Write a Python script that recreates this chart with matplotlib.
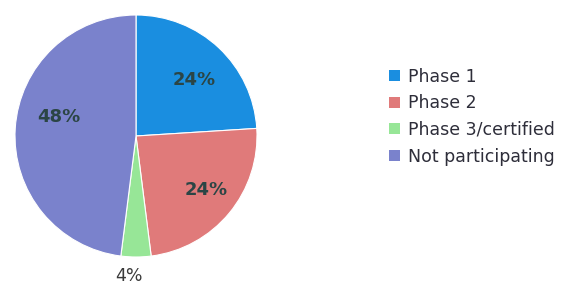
import matplotlib
matplotlib.use("Agg")
import matplotlib.pyplot as plt
import numpy as np
from matplotlib.patches import Patch

categories = ["Phase 1", "Phase 2", "Phase 3/certified", "Not participating"]
counts = [6, 6, 1, 12]
pct_labels = ["24%", "24%", "4%", "48%"]
colors = ["#1a8ee0", "#e07a7a", "#97e697", "#7a82cc"]

W, H = 588, 289
fig = plt.figure(figsize=(W / 100, H / 100), dpi=100)
cx, cy, r = 136, 136, 121
ax = fig.add_axes([(cx - r) / W, (H - cy - r) / H, 2 * r / W, 2 * r / H])

wedges, _ = ax.pie(counts, colors=colors, startangle=90, counterclock=False,
                   radius=1, wedgeprops=dict(linewidth=0.8, edgecolor="white"))
ax.set_xlim(-1, 1)
ax.set_ylim(-1, 1)
ax.set_aspect("equal")
ax.axis("off")

dists = [0.67, 0.73, 1.16, 0.66]
angle_shift = [-3, 2, -3, -10]
for w, lab, d, sh in zip(wedges, pct_labels, dists, angle_shift):
    mid = np.deg2rad((w.theta1 + w.theta2) / 2 + sh)
    ax.text(d * np.cos(mid), d * np.sin(mid), lab, ha="center", va="center",
            fontsize=13 if d < 1 else 12.5, family="DejaVu Sans",
            color="#2b4545" if d < 1 else "#3a3a3a",
            fontweight="bold" if d < 1 else "normal", clip_on=False)

handles = [Patch(facecolor=c, edgecolor="none") for c in colors]
leg = fig.legend(handles, categories, loc="upper left",
                 bbox_to_anchor=(373 / W, 1 - 52 / H), frameon=False,
                 prop=dict(family="DejaVu Sans", size=12.5), handlelength=0.65,
                 handleheight=0.6, handletextpad=0.45, labelspacing=0.5,
                 labelcolor="#2e2e3a")

fig.savefig("out.png", dpi=100, facecolor="white")
